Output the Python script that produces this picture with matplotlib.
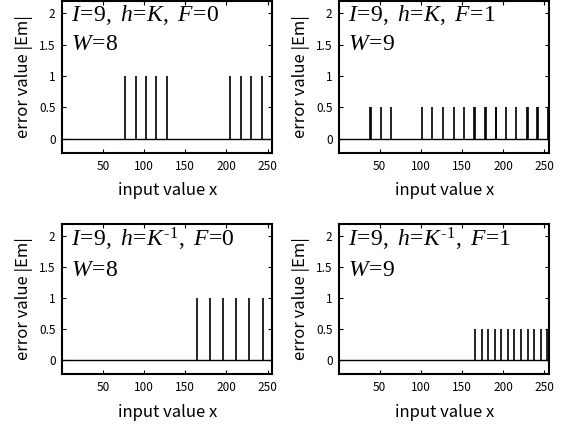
import matplotlib
matplotlib.use("Agg")
from matplotlib import pyplot as plt

# spike positions (input value x) and spike heights |Em| for each panel
x_min, x_max = 1, 256
spikes_kf0 = [77, 90, 102, 115, 128, 205, 218, 230, 243, 255]
spikes_kf1 = [38, 39, 51, 64, 101, 114, 127, 140, 153, 165, 166, 178, 179,
              191, 192, 204, 216, 229, 230, 242, 243, 255, 256]
spikes_kinv_f0 = [164, 180, 196, 212, 228, 244]
spikes_kinv_f1 = [166, 174, 182, 190, 198, 206, 214, 222, 230, 238, 246,
                  254, 256]
heights = [1, 0.5, 1, 0.5]

EQ = r'\!=\!'
KINV = r'K^{\text{-1}}'
titles = [rf'$I{EQ}9,\ h{EQ}K,\ F{EQ}0$' + '\n' + rf'$W{EQ}8$',
          rf'$I{EQ}9,\ h{EQ}K,\ F{EQ}1$' + '\n' + rf'$W{EQ}9$',
          rf'$I{EQ}9,\ h{EQ}{KINV},\ F{EQ}0$' + '\n' + rf'$W{EQ}8$',
          rf'$I{EQ}9,\ h{EQ}{KINV},\ F{EQ}1$' + '\n' + rf'$W{EQ}9$']

x_ticks = [50, 100, 150, 200, 250]
y_ticks = [0, 0.5, 1, 1.5, 2]
y_tick_labels = ['0', '0.5', '1', '1.5', '2']

plt.rcParams['font.family'] = ['Noto Sans CJK JP', 'DejaVu Sans']
plt.rcParams['mathtext.fontset'] = 'custom'
plt.rcParams['mathtext.rm'] = 'Liberation Serif'
plt.rcParams['mathtext.it'] = 'Liberation Serif:italic'


def draw_panel(ax, spikes, height, label):
    ax.hlines(0, x_min, x_max, color='k', lw=1.0)
    ax.vlines(spikes, 0, height, color='k', lw=1.2)
    ax.set_xlim(x_min, x_max)
    ax.set_ylim(-0.22, 2.2)
    ax.set_xticks(x_ticks)
    ax.set_yticks(y_ticks)
    ax.set_yticklabels(y_tick_labels)
    ax.tick_params(direction='in', top=True, right=True, length=3,
                   width=0.8, labelsize=8.5, pad=5)
    for s in ax.spines.values():
        s.set_linewidth(1.5)
    ax.set_xlabel('input value x', fontsize=12, labelpad=7)
    ax.set_ylabel('error value |Em|', fontsize=12, labelpad=4)
    ax.text(0.04, 0.985, label, transform=ax.transAxes, fontsize=17,
            va='top', ha='left', linespacing=1.25)


def main():
    fig = plt.figure(figsize=(5.63, 4.25), dpi=100)
    boxes = [[0.111, 0.641, 0.373, 0.357],
             [0.603, 0.641, 0.372, 0.357],
             [0.111, 0.120, 0.373, 0.353],
             [0.603, 0.120, 0.372, 0.353]]
    data = [spikes_kf0, spikes_kf1, spikes_kinv_f0, spikes_kinv_f1]
    for box, spikes, h, label in zip(boxes, data, heights, titles):
        ax = fig.add_axes(box)
        draw_panel(ax, spikes, h, label)
    fig.savefig('out.png', dpi=100)


if __name__ == '__main__':
    main()
